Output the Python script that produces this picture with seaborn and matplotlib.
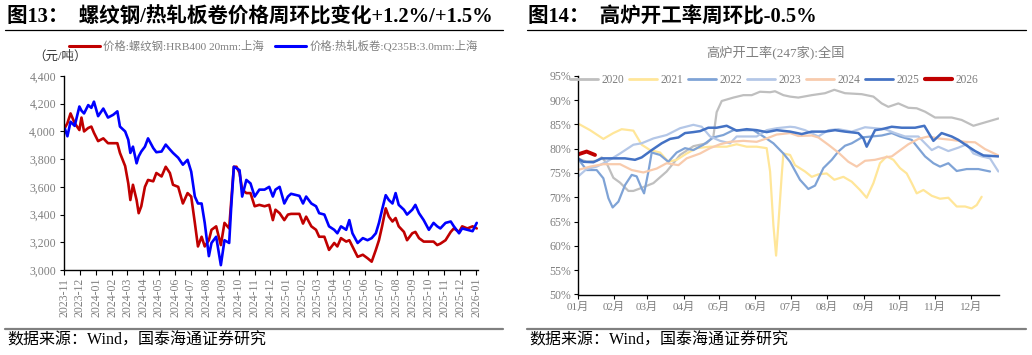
import numpy as np
import pandas as pd
import matplotlib
matplotlib.use('Agg')
import matplotlib.pyplot as plt
import matplotlib.dates as mdates
from matplotlib.ticker import FuncFormatter, FixedLocator, MultipleLocator
from matplotlib.lines import Line2D
import seaborn as sns

sns.set_theme(style='ticks')
FAM = ['Liberation Serif', 'Noto Sans CJK SC']
plt.rcParams['font.family'] = FAM
plt.rcParams['axes.unicode_minus'] = False

# ---------------- data: left chart (price, yuan/ton) ----------------
price_dates = [
    '2023-11-02', '2023-11-07', '2023-11-13', '2023-11-21', '2023-11-30', '2023-12-04', '2023-12-09',
    '2023-12-17', '2023-12-23', '2023-12-28', '2024-01-05', '2024-01-15', '2024-01-24', '2024-02-03',
    '2024-02-11', '2024-02-16', '2024-02-26', '2024-03-03', '2024-03-07', '2024-03-12', '2024-03-19',
    '2024-03-23', '2024-03-28', '2024-04-04', '2024-04-10', '2024-04-20', '2024-04-26', '2024-05-06',
    '2024-05-14', '2024-05-22', '2024-05-28', '2024-06-07', '2024-06-16', '2024-06-25', '2024-07-02',
    '2024-07-09', '2024-07-15', '2024-07-22', '2024-07-28', '2024-08-05', '2024-08-10', '2024-08-19',
    '2024-08-28', '2024-09-04', '2024-09-13', '2024-09-17', '2024-09-22', '2024-09-27', '2024-10-03',
    '2024-10-08', '2024-10-16', '2024-10-24', '2024-11-01', '2024-11-10', '2024-11-20', '2024-11-29',
    '2024-12-06', '2024-12-11', '2024-12-19', '2024-12-28', '2025-01-04', '2025-01-10', '2025-01-26',
    '2025-02-02', '2025-02-08', '2025-02-18', '2025-02-27', '2025-03-05', '2025-03-15', '2025-03-24',
    '2025-04-03', '2025-04-09', '2025-04-16', '2025-04-26', '2025-05-02', '2025-05-08', '2025-05-18',
    '2025-05-28', '2025-06-06', '2025-06-14', '2025-06-22', '2025-06-28', '2025-07-04', '2025-07-11',
    '2025-07-17', '2025-07-24', '2025-07-30', '2025-08-05', '2025-08-15', '2025-08-21', '2025-08-31',
    '2025-09-06', '2025-09-13', '2025-09-22', '2025-10-02', '2025-10-11', '2025-10-18', '2025-10-24',
    '2025-11-03', '2025-11-13', '2025-11-19', '2025-11-29', '2025-12-05', '2025-12-15', '2025-12-25',
    '2026-01-02',
]
rebar_price = [
    4025, 4060, 4130, 4060, 4010, 4100, 4000, 4025, 4035, 3990, 3930, 3950, 3915, 3915,
    3915, 3845, 3750, 3625, 3505, 3615, 3505, 3410, 3460, 3600, 3650, 3640, 3700, 3675,
    3745, 3700, 3615, 3600, 3480, 3555, 3530, 3340, 3170, 3240, 3170, 3215, 3290, 3315,
    3180, 3340, 3300, 3500, 3745, 3745, 3700, 3580, 3555, 3555, 3460, 3470, 3460, 3470,
    3360, 3435, 3410, 3360, 3400, 3405, 3405, 3335, 3385, 3315, 3290, 3240, 3240, 3145,
    3195, 3170, 3230, 3205, 3215, 3170, 3095, 3110, 3085, 3060, 3145, 3215, 3315, 3445,
    3385, 3350, 3375, 3315, 3275, 3215, 3265, 3275, 3230, 3205, 3205, 3205, 3180, 3190,
    3215, 3275, 3300, 3275, 3315, 3300, 3315, 3300,
]
hrc_price = [
    4020, 3965, 4070, 4040, 4180, 4150, 4130, 4190, 4170, 4215, 4110, 4165, 4100, 4120,
    4145, 4035, 4000, 3940, 3845, 3890, 3770, 3820, 3855, 3890, 3950, 3880, 3850, 3855,
    3905, 3870, 3845, 3810, 3760, 3795, 3710, 3530, 3480, 3480, 3340, 3100, 3195, 3240,
    3035, 3215, 3195, 3460, 3745, 3735, 3720, 3530, 3650, 3625, 3530, 3580, 3580, 3600,
    3530, 3580, 3600, 3480, 3530, 3550, 3535, 3480, 3530, 3480, 3460, 3410, 3400, 3315,
    3290, 3265, 3315, 3290, 3360, 3265, 3195, 3230, 3215, 3230, 3265, 3340, 3435, 3540,
    3505, 3480, 3555, 3470, 3435, 3400, 3435, 3470, 3410, 3360, 3290, 3340, 3315, 3300,
    3340, 3350, 3315, 3265, 3300, 3290, 3280, 3340,
]
price_labels = ['价格:螺纹钢:HRB400 20mm:上海', '价格:热轧板卷:Q235B:3.0mm:上海']

# ---------------- data: right chart (blast furnace utilisation, %) ----------------
month_labels = ['01月', '02月', '03月', '04月', '05月', '06月', '07月', '08月', '09月', '10月', '11月', '12月']
month_start_days = [0, 31, 59, 90, 120, 151, 181, 212, 243, 273, 304, 334]

day_2020 = [0, 7.6, 16, 20.4, 24.6, 30.3, 36, 43.1, 47.3, 52.9, 64.3, 75.6, 87, 98.3, 109.6, 115.3, 118.1,
            122.4, 132.3, 140.8, 147.9, 154.9, 163.5, 167.7, 174.8, 180.5, 187.5, 198.9, 210.2, 218.1, 227.2,
            241.4, 251.3, 258.4, 264, 272.5, 281, 288.1, 295.2, 303.7, 317.8, 326.3, 336.3, 346.2, 357.5]
rate_2020 = [78.0, 77.3, 77.5, 78.2, 77.0, 74.0, 73.0, 71.3, 71.3, 71.8, 72.9, 75.3, 78.7, 80.5, 81.1, 82.5, 87.5,
             89.8, 90.5, 91.0, 91.0, 91.7, 91.6, 91.8, 91.0, 90.7, 90.5, 91.0, 91.4, 92.1, 91.4,
             91.2, 90.7, 89.3, 88.6, 89.3, 88.4, 88.3, 87.6, 86.4, 86.4, 85.9, 84.7, 85.4, 86.2]

day_2021 = [0, 10.5, 21.8, 30.3, 37.4, 47.3, 54.4, 61.5, 70, 77, 84.1, 92.6, 101.1, 112.5, 126.6, 135.1, 143.6,
            152.1, 160.6, 163.5, 166.3, 168.6, 170.5, 173.4, 174.8, 180.5, 184.7, 193.2, 198.9, 204.5, 211.6,
            218.1, 225.8, 232.9, 239.9, 245.6, 251.3, 256.9, 262.6, 268.3, 273.9, 279.6, 283.9, 288.1, 293.8,
            300.9, 307.9, 315, 322.1, 329.2, 334.8, 339.1, 343.3]
rate_2021 = [85.2, 83.8, 82.0, 83.2, 84.0, 83.7, 80.8, 79.7, 79.2, 77.3, 77.7, 79.0, 80.1, 80.4, 80.4, 80.9, 80.4,
             80.4, 80.1, 75.3, 64.3, 58.0, 64.3, 74.6, 79.0, 78.7, 76.6, 75.3, 74.2, 74.7, 74.9,
             73.6, 74.2, 73.2, 71.5, 69.9, 72.9, 77.0, 78.4, 77.7, 76.0, 74.9, 72.9, 70.8, 71.5,
             70.3, 69.7, 69.9, 68.1, 68.1, 67.7, 68.4, 70.1]

day_2022 = [0, 7.6, 16.1, 21.8, 26.1, 29.7, 34.6, 40.2, 45.9, 50.1, 54.4, 56.4, 60.1, 62.9, 70, 77, 84.1, 91.2,
            98.3, 106.8, 115.3, 123.8, 132.3, 140.8, 149.3, 157.8, 166.3, 174.8, 180.5, 188.9, 196, 201.7,
            208.8, 215.9, 221.5, 227.2, 232.9, 241.4, 249.9, 258.4, 266.9, 273.9, 283.9, 289.5, 295.2, 302.3,
            307.9, 315, 322.1, 330.6, 340.5, 350.4]
rate_2022 = [78.0, 75.6, 75.6, 73.9, 69.8, 67.9, 69.1, 72.5, 74.6, 74.3, 71.8, 70.8, 75.3, 79.2, 78.7, 77.3, 79.2, 80.1,
             79.7, 80.8, 82.3, 82.8, 83.8, 83.8, 83.8, 82.5, 81.1, 79.0, 77.3, 73.6, 71.7, 72.4,
             76.0, 77.7, 79.4, 80.6, 81.1, 82.3, 82.5, 82.7, 83.2, 82.5, 81.8, 80.1, 78.4, 77.0,
             76.3, 77.0, 75.4, 75.8, 75.8, 75.3]

day_2023 = [0, 7.6, 16.1, 24.6, 36, 47.3, 54.4, 64.3, 75.6, 87, 98.3, 105.4, 112.5, 121, 129.5, 135.1, 143.6,
            152.1, 160.6, 169.1, 180.5, 184.7, 193.2, 204.5, 213, 221.5, 232.9, 244.2, 252.7, 261.2, 269.7,
            278.2, 289.5, 295.2, 300.9, 306.5, 315, 323.5, 330.6, 336.3, 343.3, 350.4, 357.5]
rate_2023 = [74.2, 75.8, 76.3, 77.3, 79.0, 80.8, 81.1, 82.1, 82.8, 84.2, 84.9, 84.5, 82.5, 81.6, 81.1, 82.5, 82.5,
             82.5, 83.8, 84.2, 84.5, 84.4, 83.8, 82.5, 83.8, 84.0, 83.5, 84.4, 84.2, 84.0, 83.2,
             82.5, 82.5, 81.1, 79.7, 80.4, 79.5, 80.2, 80.9, 79.0, 78.4, 78.0, 75.3]

day_2024 = [0, 10.5, 21.8, 36, 45.9, 55.8, 67.1, 75.6, 85.6, 92.6, 104, 112.5, 121, 129.5, 140.8, 152.1, 160.6,
            169.1, 180.5, 187.5, 198.9, 204.5, 213, 221.5, 230, 237.1, 244.2, 252.7, 261.2, 266.9, 272.5,
            281, 289.5, 298, 306.5, 317.8, 329.2, 337.7, 346.2, 357.5]
rate_2024 = [75.6, 76.3, 76.8, 76.8, 75.6, 75.1, 75.9, 77.0, 76.6, 78.0, 79.0, 80.1, 80.9, 81.4, 81.6, 81.4, 82.1,
             82.9, 83.2, 82.6, 82.7, 82.3, 80.8, 79.2, 77.3, 76.3, 77.5, 77.7, 78.2, 78.4, 79.4,
             80.9, 82.0, 82.5, 82.1, 81.8, 81.4, 81.3, 79.9, 78.6]

day_2025 = [0, 4.8, 13.3, 20.4, 30.3, 40.2, 48.7, 54.4, 62.9, 71.4, 78.5, 85.6, 91.2, 98.3, 104, 111, 118.1,
            126.6, 135.1, 143.6, 152.1, 160.6, 169.1, 180.5, 190.4, 198.9, 210.2, 218.7, 227.2, 238.5, 242.8,
            245.6, 252.7, 258.4, 266.9, 275.4, 286.7, 294.6, 302.3, 309.3, 317.8, 323.5, 332, 337.7, 344.8, 357.5]
rate_2025 = [78.0, 77.3, 77.2, 78.0, 78.0, 78.0, 77.7, 78.2, 79.7, 81.1, 82.0, 82.3, 83.2, 83.4, 83.6, 84.3, 84.3,
             84.7, 83.7, 84.0, 83.8, 83.4, 83.8, 83.5, 83.0, 83.5, 83.5, 83.8, 83.5, 83.2, 82.1,
             80.4, 83.8, 84.0, 84.5, 84.3, 84.3, 84.7, 81.6, 83.2, 82.5, 81.8, 80.4, 79.5, 78.6, 78.4]

day_2026 = [0, 7.6, 14.7]
rate_2026 = [78.8, 79.4, 78.7]

year_names = ['2020', '2021', '2022', '2023', '2024', '2025', '2026']
year_days = [day_2020, day_2021, day_2022, day_2023, day_2024, day_2025, day_2026]
year_rates = [rate_2020, rate_2021, rate_2022, rate_2023, rate_2024, rate_2025, rate_2026]

# ---------------- styling ----------------
W, H = 1032, 355
GRAY = '#7f7f7f'
fig = plt.figure(figsize=(W / 100, H / 100), dpi=100)
fig.patch.set_facecolor('white')

def fx(px):
    return px / W

def fy(py):
    return 1 - py / H

# titles and rules
fig.text(fx(7), fy(17), '图13：  螺纹钢/热轧板卷价格周环比变化+1.2%/+1.5%', fontsize=14.8,
         fontweight='bold', ha='left', va='center', color='black')
fig.text(fx(528), fy(17), '图14：  高炉开工率周环比-0.5%', fontsize=14.8,
         fontweight='bold', ha='left', va='center', color='black')
for x0, x1 in [(5, 503), (527, 1026)]:
    fig.add_artist(Line2D([fx(x0), fx(x1)], [fy(29.5)] * 2, color='black', lw=0.9, transform=fig.transFigure))
    fig.add_artist(Line2D([fx(x0), fx(x1)], [fy(329)] * 2, color='#808080', lw=1.6, transform=fig.transFigure))
fig.text(fx(7), fy(341), '数据来源：Wind，国泰海通证券研究', fontsize=11.5, ha='left', va='center', color='black')
fig.text(fx(529), fy(341), '数据来源：Wind，国泰海通证券研究', fontsize=11.5, ha='left', va='center', color='black')

# ---------------- left chart ----------------
ax1 = fig.add_axes([fx(64.3), fy(270), fx(478.3) - fx(64.3), fy(76) - fy(270)])
df_price = pd.DataFrame({
    'date': pd.to_datetime(price_dates * 2),
    'price': rebar_price + hrc_price,
    'series': [price_labels[0]] * len(rebar_price) + [price_labels[1]] * len(hrc_price),
})
sns.lineplot(data=df_price, x='date', y='price', hue='series',
             palette={price_labels[0]: '#C00000', price_labels[1]: '#0000FF'},
             hue_order=price_labels, linewidth=1.9, legend=False, ax=ax1)
ax1.set_xlim(pd.Timestamp('2023-11-01'), pd.Timestamp('2026-01-05'))
ax1.set_ylim(3000, 4400)
ax1.yaxis.set_major_locator(MultipleLocator(200))
ax1.yaxis.set_major_formatter(FuncFormatter(lambda v, p: f'{v:,.0f}'))
ax1.xaxis.set_major_locator(mdates.MonthLocator())
ax1.xaxis.set_major_formatter(mdates.DateFormatter('%Y-%m'))
ax1.set_xlabel('')
ax1.set_ylabel('')
for s in ['top', 'right']:
    ax1.spines[s].set_visible(False)
for s in ['left', 'bottom']:
    ax1.spines[s].set_color('black')
    ax1.spines[s].set_linewidth(1.0)
ax1.tick_params(axis='y', direction='out', length=3, width=0.8, color='black', labelcolor=GRAY,
                labelsize=8.5, pad=3)
ax1.tick_params(axis='x', direction='out', length=3.5, width=0.8, color='black', labelcolor=GRAY,
                labelsize=8.5, pad=2, labelrotation=90)
fig.text(fx(33), fy(57), '（元/吨）', fontsize=9, ha='left', va='center', color='#333333')
handles1 = [Line2D([], [], color='#C00000', lw=2.2), Line2D([], [], color='#0000FF', lw=2.2)]
fig.legend(handles1, price_labels, loc='center left', bbox_to_anchor=(fx(69), fy(46)), ncol=2,
           frameon=False, fontsize=8.2, handlelength=2.7, handletextpad=0.3, columnspacing=1.0,
           labelcolor=GRAY, borderpad=0, borderaxespad=0)

# ---------------- right chart ----------------
ax2 = fig.add_axes([fx(577.7), fy(294.5), fx(999.3) - fx(577.7), fy(75.7) - fy(294.5)])
year_colors = ['#BFBFBF', '#FFE699', '#7FA3D6', '#B4C7E7', '#F8CBAD', '#4472C4', '#C00000']
year_widths = [1.6, 1.6, 1.6, 1.6, 1.6, 1.8, 2.8]
rows = []
for name, ds, rs in zip(year_names, year_days, year_rates):
    for d, r in zip(ds, rs):
        rows.append((name, d, r))
df_rate = pd.DataFrame(rows, columns=['year', 'day', 'rate'])
for name, col, lw in zip(year_names, year_colors, year_widths):
    sns.lineplot(data=df_rate[df_rate['year'] == name], x='day', y='rate', color=col,
                 linewidth=lw, legend=False, ax=ax2)
ax2.set_xlim(0, 358.3)
ax2.set_ylim(50, 95)
ax2.yaxis.set_major_locator(MultipleLocator(5))
ax2.yaxis.set_major_formatter(FuncFormatter(lambda v, p: f'{v:.0f}%'))
ax2.xaxis.set_major_locator(FixedLocator(month_start_days))
ax2.set_xticklabels(month_labels)
ax2.set_xlabel('')
ax2.set_ylabel('')
for s in ['top', 'right']:
    ax2.spines[s].set_visible(False)
for s in ['left', 'bottom']:
    ax2.spines[s].set_color('black')
    ax2.spines[s].set_linewidth(1.0)
ax2.tick_params(axis='y', direction='out', length=3, width=0.8, color='black', labelcolor=GRAY,
                labelsize=8.5, pad=2)
ax2.tick_params(axis='x', direction='out', length=3, width=0.8, color='black', labelcolor=GRAY,
                labelsize=8, pad=2)
fig.text(fx(775.5), fy(52), '高炉开工率(247家):全国', fontsize=9.5, ha='center', va='center', color=GRAY)
handles2 = [Line2D([], [], color=c, lw=(3.0 if n == '2026' else 2.0)) for n, c in zip(year_names, year_colors)]
ax2.legend(handles2, year_names, loc='center left', bbox_to_anchor=(-0.018, 0.98), ncol=7,
           frameon=False, fontsize=8.3, handlelength=2.4, handletextpad=0.3, columnspacing=0.45,
           labelcolor=GRAY, borderpad=0, borderaxespad=0)

fig.savefig('out.png', dpi=100, facecolor='white')
